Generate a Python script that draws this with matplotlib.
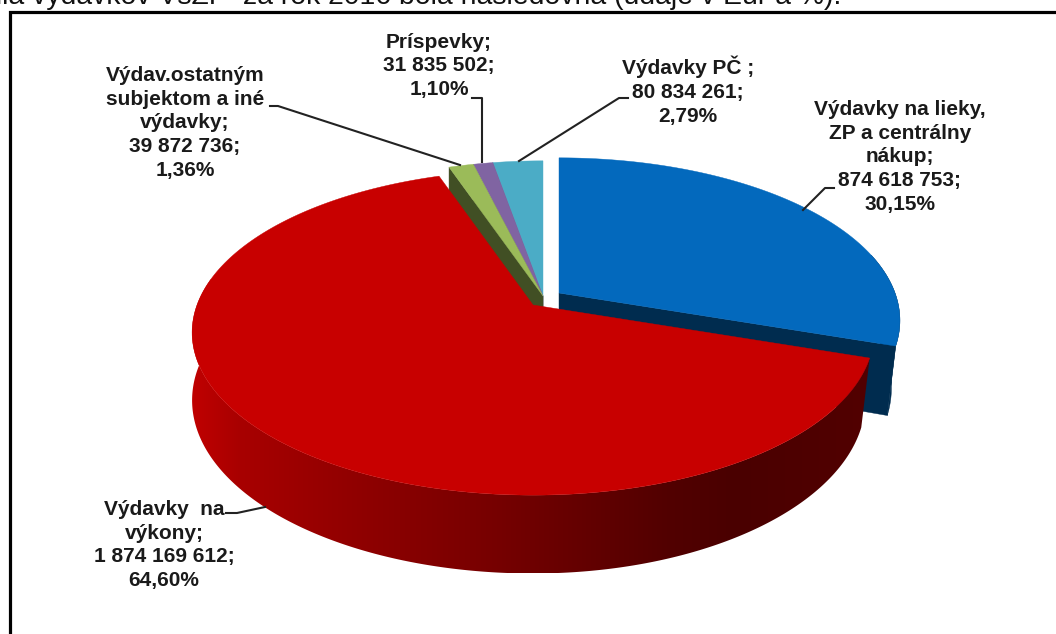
import numpy as np
import matplotlib
matplotlib.use("Agg")
import matplotlib.pyplot as plt
from matplotlib.patches import Polygon
from matplotlib.colors import to_rgb

plt.rcParams['font.family'] = ['Liberation Sans', 'DejaVu Sans']

# Data
names = ["Výdavky na lieky,\nZP a centrálny\nnákup", "Výdavky  na\nvýkony",
         "Výdav.ostatným\nsubjektom a iné\nvýdavky", "Príspevky", "Výdavky PČ "]
values = [874618753, 1874169612, 39872736, 31835502, 80834261]
value_labels = ["874 618 753", "1 874 169 612", "39 872 736", "31 835 502", "80 834 261"]
pct_labels = ["30,15%", "64,60%", "1,36%", "1,10%", "2,79%"]
title = "ália výdavkov VšZP  za rok 2016 bola nasledovná (údaje v Eur a %)."

# Colours: top face, side face
top_colors = ["#0369bd", "#c80000", "#9bbb59", "#8064a2", "#4bacc6"]
side_colors = ["#002c4f", "#8c0000", "#414f24", "#352a47", "#1f4a55"]
red_stops = [0, 0.07, 0.25, 0.45, 0.7, 0.8, 1]
red_ramp = ["#c00000", "#a80000", "#8f0000", "#760000", "#520000", "#4a0000", "#520000"]

# Pie projection (perspective look of the chart in pixels)
A, B, K = 336.0, 158.0, 0.169
apex = [(559, 293), (533, 305), (543, 296), (543, 296), (543, 296)]
shares = np.array(values) / sum(values)
edges = np.concatenate([[0], np.cumsum(shares)]) * 2 * np.pi


def project(theta):
    u, v = np.sin(theta), np.cos(theta)
    w = 1 + K * v
    return A * u / w, -B * v / w


def top_pt(theta, c):
    x, y = project(theta)
    return c[0] + x, c[1] + y


def bot_pt(theta, c):
    x, y = project(theta)
    # only the right side of the bottom rim pulls in
    sx = np.where(x < 0, 1.0, 0.975)
    return c[0] + sx * x, c[1] + y + 66 + 0.065 * y


fig = plt.figure(figsize=(10.56, 6.34), dpi=100)
ax = fig.add_axes([0, 0, 1, 1])

# Frame
ax.plot([9.5, 9.5, 1060], [640, 11.5, 11.5], color="black", lw=2.3, solid_joinstyle="miter")
ax.text(841, 4, title, ha="right", va="baseline", fontsize=20.4, color="#111111", clip_on=False)


def wall(i, t0, t1, color=None):
    ts = np.linspace(t0, t1, 300)
    xt, yt = top_pt(ts, apex[i])
    xb, yb = bot_pt(ts, apex[i])
    pts = np.r_[np.c_[xt, yt], np.c_[xb, yb][::-1]]
    if color is not None:
        ax.add_patch(Polygon(pts, closed=True, fc=color, ec=color, lw=0.3, zorder=2))
        return
    # shaded strip, colour follows the screen x position
    rgb = np.array([to_rgb(c) for c in red_ramp])
    f = np.linspace(0, 1, 600)
    grad = np.stack([np.interp(f, red_stops, rgb[:, j]) for j in range(3)], axis=-1)[None, :, :]
    x0, x1 = pts[:, 0].min(), pts[:, 0].max()
    y0, y1 = pts[:, 1].min(), pts[:, 1].max()
    im = ax.imshow(grad, extent=(x0, x1, y1, y0), aspect="auto", zorder=4)
    im.set_clip_path(Polygon(pts, closed=True, transform=ax.transData))


def face(i, t):
    x0, y0 = apex[i]
    xa, ya = top_pt(t, apex[i])
    xb, yb = bot_pt(t, apex[i])
    pts = [(x0, y0), (xa, ya), (xb, yb), (x0, y0 + 66)]
    ax.add_patch(Polygon(pts, closed=True, fc=side_colors[i], ec=side_colors[i], lw=0.3, zorder=2))


def top(i, z):
    ts = np.linspace(edges[i], edges[i + 1], 200)
    x, y = top_pt(ts, apex[i])
    pts = np.r_[[apex[i]], np.c_[x, y]]
    ax.add_patch(Polygon(pts, closed=True, fc=top_colors[i], ec=top_colors[i], lw=0.3, zorder=z))


# Blue slice
wall(0, np.pi * 0.42, edges[1], side_colors[0])
face(0, edges[1])
top(0, 3)

# Small slices at the back
for i in [4, 3, 2]:
    face(i, edges[i])
    top(i, 3)

# Red slice
left_t = 1.5 * np.pi + 0.17
wall(1, edges[1], left_t)
top(1, 5)

# Labels
lab_pos = [(900, 157), (164, 545), (185, 123), (439, 66), (688, 91)]
for i in range(len(values)):
    s = names[i] + ";\n" + value_labels[i] + ";\n" + pct_labels[i]
    ax.text(lab_pos[i][0], lab_pos[i][1], s, ha="center", va="center", fontsize=15,
            fontweight="bold", color="#1a1a1a", linespacing=1.33, zorder=8)

# Leader lines
leaders = [([803, 825, 834], [210, 188, 188]),
           ([265, 237, 226], [507, 513, 513]),
           ([460, 278, 270], [165, 106, 106]),
           ([482, 482, 472], [162, 98, 98]),
           ([519, 619, 628], [161, 98, 98])]
for lx, ly in leaders:
    ax.plot(lx, ly, color="#222222", lw=1.5, zorder=7)

ax.set_xlim(0, 1056)
ax.set_ylim(634, 0)
ax.axis("off")

fig.savefig("out.png", dpi=100)
